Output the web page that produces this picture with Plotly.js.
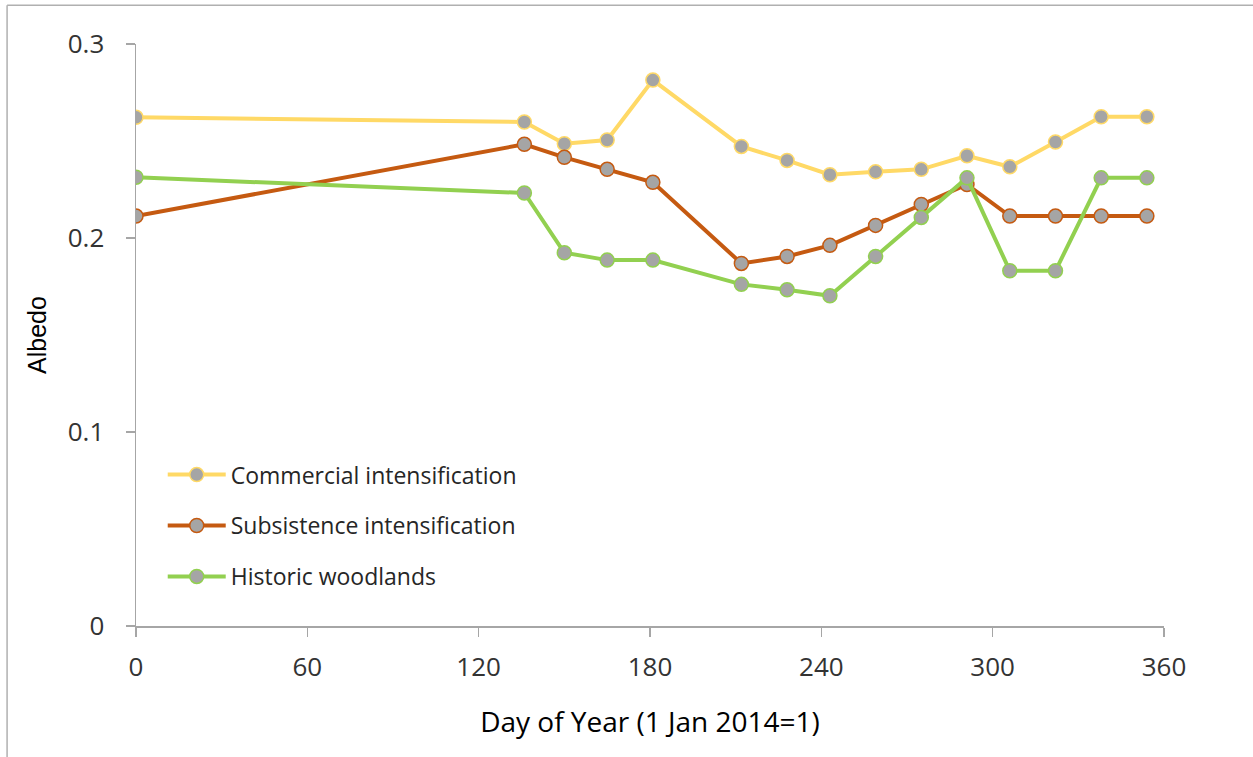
<!DOCTYPE html>
<html>
<head>
<meta charset="utf-8">
<script src="https://cdn.plot.ly/plotly-3.0.1.min.js"></script>
<style>html,body{margin:0;padding:0;background:#fff;}#chart{width:1253px;height:757px;}</style>
</head>
<body>
<div id="chart"></div>
<script>
const seriesNames = ["Commercial intensification", "Subsistence intensification", "Historic woodlands"];
const dayOfYear = [0, 136, 150, 165, 181, 212, 228, 243, 259, 275, 291, 306, 322, 338, 354];
const commercial = [0.2622, 0.2598, 0.2486, 0.2505, 0.2814, 0.2472, 0.2400, 0.2326, 0.2341, 0.2354, 0.2424, 0.2367, 0.2495, 0.2625, 0.2625];
const subsistence = [0.2113, 0.2483, 0.2416, 0.2354, 0.2287, 0.1869, 0.1905, 0.1962, 0.2065, 0.2173, 0.2276, 0.2113, 0.2113, 0.2113, 0.2113];
const woodlands = [0.2313, 0.2232, 0.1924, 0.1886, 0.1886, 0.1761, 0.1733, 0.1702, 0.1905, 0.2106, 0.2310, 0.1831, 0.1831, 0.2310, 0.2310];
const colors = ["#ffd966", "#c55a11", "#92d050"];
const values = [commercial, subsistence, woodlands];

const traces = values.map((v, i) => ({
  x: dayOfYear, y: v, name: seriesNames[i], type: "scatter", mode: "lines+markers",
  legendgroup: "g" + i,
  line: {color: colors[i], width: 4},
  marker: {size: 14, color: "#a5a5a5", line: {color: colors[i], width: 1.5}}
}));

const axisGray = "#a6a6a6";
const tickFont = {family: "Open Sans, Noto Sans, sans-serif", size: 26, color: "#333333"};
const layout = {
  width: 1253, height: 757,
  margin: {l: 136, r: 89, t: 44, b: 131, pad: 0},
  paper_bgcolor: "#fff", plot_bgcolor: "#fff",
  showlegend: true,
  legend: {x: 0.026, y: 0.297, xanchor: "left", yanchor: "top", traceorder: "grouped", tracegroupgap: 18,
    itemwidth: 58, bgcolor: "rgba(0,0,0,0)",
    font: {family: "Open Sans, Noto Sans, sans-serif", size: 23, color: "#262626"}},
  xaxis: {range: [0, 360], tick0: 0, dtick: 60, showgrid: false, zeroline: false,
    showline: true, linecolor: axisGray, linewidth: 1.5,
    ticks: "outside", ticklen: 9, tickwidth: 1.5, tickcolor: axisGray,
    tickfont: tickFont, ticklabelstandoff: 8,
    title: {text: "Day of Year (1 Jan 2014=1)", font: {family: "Open Sans, Noto Sans, sans-serif", size: 28, color: "#000"}, standoff: 29}},
  yaxis: {range: [0, 0.3], tick0: 0, dtick: 0.1, showgrid: false, zeroline: false,
    showline: true, linecolor: axisGray, linewidth: 1.5,
    ticks: "outside", ticklen: 9, tickwidth: 1.5, tickcolor: axisGray,
    tickfont: tickFont, ticklabelstandoff: 16,
    title: {text: "Albedo", font: {family: "Liberation Sans, Arial, sans-serif", size: 25, color: "#000"}, standoff: 14}},
  shapes: [
    {type: "line", xref: "paper", yref: "paper", x0: -0.1254, x1: -0.1254, y0: 1.0665, y1: -0.23, line: {color: "#b0b0b0", width: 1.5}},
    {type: "line", xref: "paper", yref: "paper", x0: -0.1254, x1: 1.09, y0: 1.0665, y1: 1.0665, line: {color: "#b0b0b0", width: 1.5}}
  ]
};
Plotly.newPlot("chart", traces, layout, {displayModeBar: false, staticPlot: true});
</script>
</body>
</html>
